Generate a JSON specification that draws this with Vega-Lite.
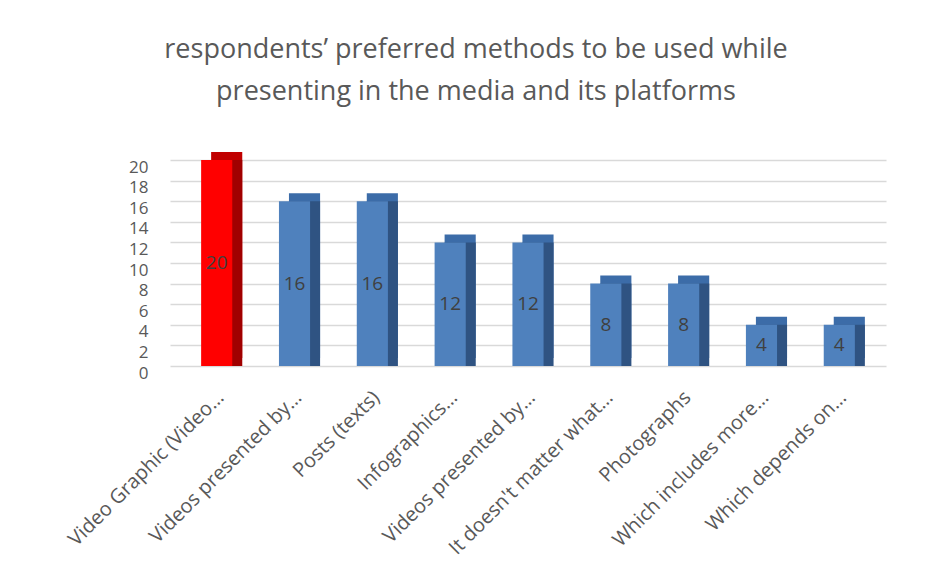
{
  "$schema": "https://vega.github.io/schema/vega-lite/v6.json",
  "autosize": {"type": "none"},
  "width": 716,
  "height": 206,
  "padding": {"left": 170, "top": 160, "right": 66, "bottom": 214},
  "background": "white",
  "title": {
    "text": ["respondents’ preferred methods to be used while", "presenting in the media and its platforms"],
    "anchor": "middle",
    "dx": -52,
    "offset": 46,
    "font": "Open Sans",
    "fontSize": 27,
    "fontWeight": "normal",
    "color": "#595959",
    "lineHeight": 42
  },
  "config": {
    "view": {"stroke": null},
    "axis": {"labelFont": "Open Sans", "labelColor": "#595959"}
  },
  "data": {
    "values": [
      {"method": "Video Graphic (Video…", "count": 20, "highlight": "yes"},
      {"method": "Videos presented by…", "count": 16, "highlight": "no"},
      {"method": "Posts (texts)", "count": 16, "highlight": "no"},
      {"method": "Infographics…", "count": 12, "highlight": "no"},
      {"method": "Videos presented by… ", "count": 12, "highlight": "no"},
      {"method": "It doesn't matter what…", "count": 8, "highlight": "no"},
      {"method": "Photographs", "count": 8, "highlight": "no"},
      {"method": "Which includes more…", "count": 4, "highlight": "no"},
      {"method": "Which depends on…", "count": 4, "highlight": "no"}
    ]
  },
  "encoding": {
    "x": {
      "field": "method",
      "type": "nominal",
      "sort": null,
      "scale": {"paddingInner": 0.6, "paddingOuter": 0.4},
      "axis": {
        "title": null,
        "domain": false,
        "ticks": false,
        "labelAngle": -45,
        "labelAlign": "right",
        "labelBaseline": "middle",
        "labelPadding": 28,
        "labelOffset": 4,
        "labelFontSize": 20,
        "labelLimit": 300
      }
    }
  },
  "layer": [
    {
      "layer": [
        {
          "mark": {"type": "bar", "xOffset": 10, "yOffset": -8, "y2Offset": -8},
          "encoding": {
            "color": {
              "field": "highlight",
              "type": "nominal",
              "scale": {"domain": ["yes", "no"], "range": ["#c00000", "#3c6ca8"]},
              "legend": null
            }
          }
        },
        {
          "mark": {"type": "bar", "xOffset": 10, "y2Offset": -8},
          "encoding": {
            "color": {
              "field": "highlight",
              "type": "nominal",
              "scale": {"domain": ["yes", "no"], "range": ["#a00000", "#2f5382"]},
              "legend": null
            }
          }
        },
        {
          "mark": {"type": "bar"},
          "encoding": {
            "color": {
              "field": "highlight",
              "type": "nominal",
              "scale": {"domain": ["yes", "no"], "range": ["#ff0000", "#4f81bd"]},
              "legend": null
            }
          }
        }
      ],
      "encoding": {
        "y": {
          "field": "count",
          "type": "quantitative",
          "scale": {"domain": [0, 20]},
          "axis": {
            "title": null,
            "domain": false,
            "ticks": false,
            "values": [0, 2, 4, 6, 8, 10, 12, 14, 16, 18, 20],
            "labelFontSize": 17,
            "labelPadding": 22,
            "labelOffset": 7,
            "gridColor": "#d9d9d9",
            "gridWidth": 1.5
          }
        }
      },
      "resolve": {"scale": {"color": "independent"}}
    },
    {
      "mark": {"type": "text", "font": "Open Sans", "fontSize": 19, "color": "#404040"},
      "encoding": {
        "y": {
          "field": "count",
          "type": "quantitative",
          "scale": {"domain": [0, 40]},
          "axis": null
        },
        "text": {"field": "count", "type": "quantitative"}
      }
    }
  ],
  "resolve": {"scale": {"y": "independent"}}
}
